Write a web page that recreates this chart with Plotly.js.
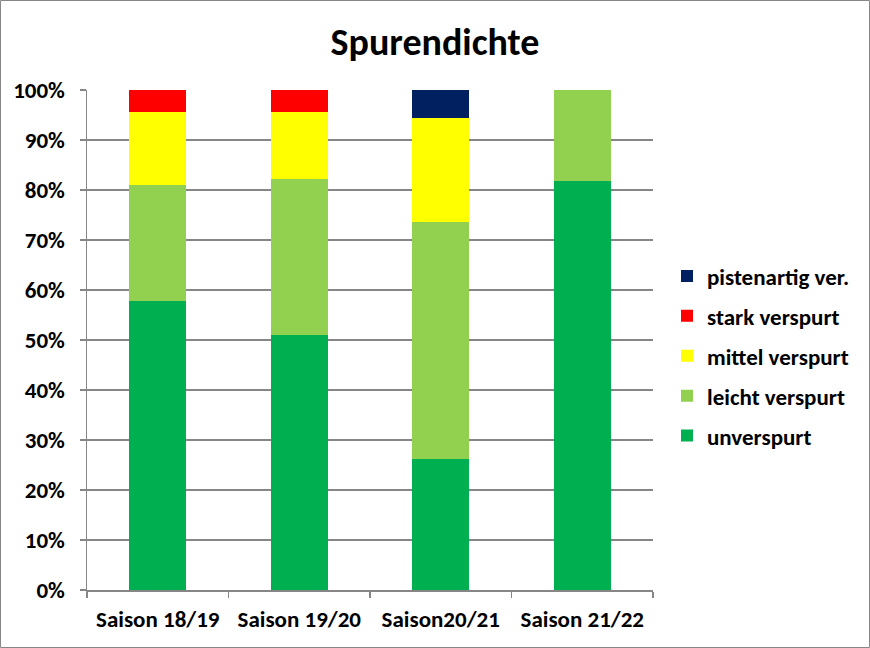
<!DOCTYPE html>
<html>
<head>
<meta charset="utf-8">
<script src="https://cdn.plot.ly/plotly-3.0.1.min.js"></script>
<style>html,body{margin:0;padding:0;background:#fff;}#chart{width:870px;height:648px;}</style>
</head>
<body>
<div id="chart"></div>
<script>
const categories = ["Saison 18/19", "Saison 19/20", "Saison20/21", "Saison 21/22"];
const unverspurt = [57.8, 51.0, 26.2, 81.8];
const leichtVerspurt = [23.2, 31.2, 47.4, 18.2];
const mittelVerspurt = [14.6, 13.4, 20.8, 0];
const starkVerspurt = [4.4, 4.4, 0, 0];
const pistenartig = [0, 0, 5.6, 0];
const yTickVals = [0, 10, 20, 30, 40, 50, 60, 70, 80, 90, 100];
const yTickText = ["0%", "10%", "20%", "30%", "40%", "50%", "60%", "70%", "80%", "90%", "100%"];

const seriesNames = ["unverspurt", "leicht verspurt", "mittel verspurt", "stark verspurt", "pistenartig ver."];
const seriesValues = [unverspurt, leichtVerspurt, mittelVerspurt, starkVerspurt, pistenartig];
const seriesColors = ["#00B050", "#92D050", "#FFFF00", "#FF0000", "#002060"];

const font = "Carlito, 'Liberation Sans', Arial, sans-serif";

const traces = seriesNames.map((n, i) => ({
  type: "bar",
  name: n,
  x: categories,
  y: seriesValues[i],
  marker: {color: seriesColors[i], line: {width: 0}},
  legendgroup: "g" + i,
  legendrank: 10 - i,
  hoverinfo: "x+y+name"
}));

const L = 87, R = 653, T = 90, B = 590, W = 870, H = 648;
const pw = R - L, ph = B - T;

const layout = {
  width: W, height: H,
  margin: {l: L, r: W - R, t: T, b: H - B},
  paper_bgcolor: "#fff", plot_bgcolor: "#fff",
  barmode: "stack",
  bargap: 0.6,
  title: {text: "<b>Spurendichte</b>", font: {family: font, size: 38, color: "#000"}, x: 0.5, xanchor: "center", y: 1 - 42 / H, yanchor: "middle"},
  xaxis: {
    type: "category",
    tickson: "boundaries",
    ticks: "outside", ticklen: 6, tickcolor: "#868686", tickwidth: 1.5,
    showline: true, linecolor: "#868686", linewidth: 1.5,
    showgrid: false,
    ticklabelstandoff: 8,
    tickfont: {family: font, size: 23, color: "#000", weight: "bold"},
    fixedrange: true
  },
  yaxis: {
    range: [0, 100],
    tickvals: yTickVals, ticktext: yTickText,
    ticks: "outside", ticklen: 6, tickcolor: "#868686", tickwidth: 1.5,
    showline: true, linecolor: "#868686", linewidth: 1.5,
    showgrid: true, gridcolor: "#868686", gridwidth: 1.5,
    zeroline: false,
    ticklabelstandoff: 10,
    tickfont: {family: font, size: 23, color: "#000", weight: "bold"},
    fixedrange: true
  },
  legend: {
    traceorder: "grouped",
    tracegroupgap: 7,
    x: (667 - L) / pw, xanchor: "left",
    y: (B - 356) / ph, yanchor: "middle",
    font: {family: font, size: 23, color: "#000", weight: "bold"},
    itemwidth: 30,
    bgcolor: "rgba(0,0,0,0)"
  },
  shapes: [{
    type: "rect", xref: "paper", yref: "paper",
    x0: (0.5 - L) / pw, x1: (W - 0.5 - L) / pw,
    y0: (B - (H - 0.5)) / ph, y1: (B - 0.5) / ph,
    line: {color: "#868686", width: 1}, fillcolor: "rgba(0,0,0,0)", layer: "below"
  }]
};

Plotly.newPlot("chart", traces, layout, {displayModeBar: false, staticPlot: true});
</script>
</body>
</html>
